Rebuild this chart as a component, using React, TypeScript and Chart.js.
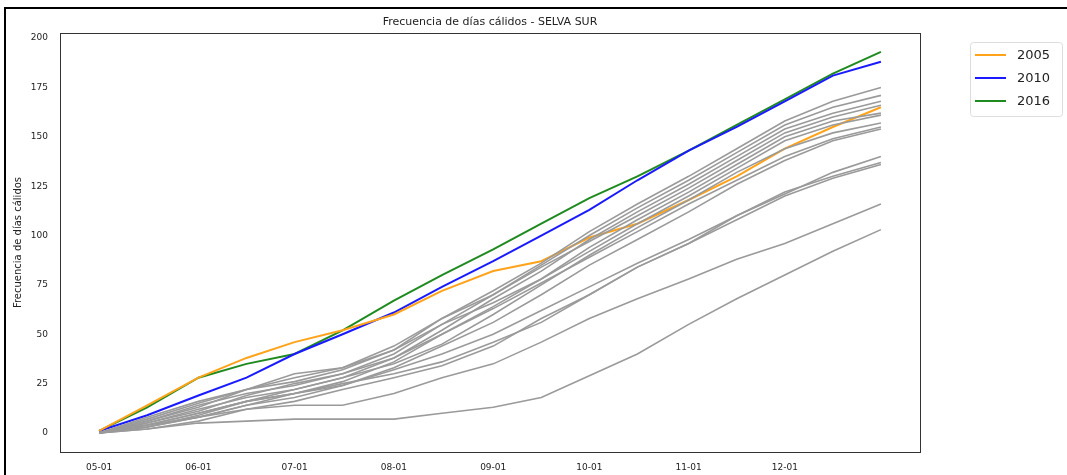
import React, { useEffect, useRef } from "react";
import { Chart, registerables } from "chart.js";
Chart.register(...registerables);

const days = [0, 15, 31, 46, 61, 76, 92, 107, 123, 138, 153, 168, 184, 199, 214, 229, 244];
const monthTicks = [0, 31, 61, 92, 123, 153, 184, 214];
const monthLabels = ["05-01", "06-01", "07-01", "08-01", "09-01", "10-01", "11-01", "12-01"];
const yTicks = [0, 25, 50, 75, 100, 125, 150, 175, 200];

const y2005 = [1, 14, 28, 38, 46, 52, 60, 72, 82, 87, 99, 106, 118, 130, 144, 155, 165];
const y2010 = [1, 9, 19, 28, 40, 50, 61, 74, 87, 100, 113, 128, 143, 155, 168, 181, 188];
const y2016 = [1, 13, 28, 35, 40, 52, 67, 80, 93, 106, 119, 130, 143, 156, 169, 182, 193];

const grayYears = [
  [0, 8, 16, 22, 26, 32, 42, 58, 72, 86, 102, 116, 130, 144, 158, 168, 175],
  [0, 6, 14, 20, 24, 30, 40, 55, 70, 85, 100, 114, 128, 142, 156, 165, 171],
  [0, 5, 12, 18, 22, 28, 38, 52, 68, 82, 98, 112, 126, 140, 154, 162, 168],
  [0, 7, 15, 22, 28, 33, 44, 58, 70, 84, 97, 110, 124, 138, 152, 160, 166],
  [0, 4, 10, 16, 20, 26, 36, 50, 64, 78, 94, 108, 122, 136, 150, 158, 162],
  [0, 6, 13, 22, 30, 33, 42, 55, 66, 78, 92, 106, 120, 134, 148, 156, 161],
  [0, 3, 9, 16, 22, 28, 35, 45, 60, 75, 90, 104, 118, 132, 144, 152, 157],
  [0, 5, 11, 19, 25, 30, 38, 50, 63, 76, 89, 102, 116, 128, 140, 149, 155],
  [0, 4, 8, 14, 18, 24, 33, 44, 56, 70, 85, 98, 112, 126, 138, 148, 154],
  [0, 3, 8, 14, 20, 25, 30, 36, 46, 56, 70, 84, 96, 110, 121, 132, 140],
  [0, 4, 10, 16, 20, 24, 32, 40, 50, 62, 74, 86, 98, 110, 122, 130, 137],
  [0, 2, 6, 12, 16, 22, 28, 34, 44, 58, 70, 84, 96, 108, 120, 129, 136],
  [0, 3, 8, 12, 14, 14, 20, 28, 35, 46, 58, 68, 78, 88, 96, 106, 116],
  [0, 2, 5, 6, 7, 7, 7, 10, 13, 18, 29, 40, 55, 68, 80, 92, 103],
];

const legendItems = [
  { label: "2005", color: "#ffa31a" },
  { label: "2010", color: "#1a1aff" },
  { label: "2016", color: "#1f8a1f" },
];

export default function App() {
  const ref = useRef<HTMLCanvasElement>(null);
  useEffect(() => {
    const mk = (vals: number[]) => vals.map((v, i) => ({ x: days[i], y: v }));
    const datasets: any[] = grayYears.map((g, i) => ({
      label: "g" + i, data: mk(g), borderColor: "#9a9a9a", borderWidth: 1.6, pointRadius: 0,
    }));
    datasets.push(
      { label: "2005", data: mk(y2005), borderColor: legendItems[0].color, borderWidth: 2, pointRadius: 0 },
      { label: "2010", data: mk(y2010), borderColor: legendItems[1].color, borderWidth: 2, pointRadius: 0 },
      { label: "2016", data: mk(y2016), borderColor: legendItems[2].color, borderWidth: 2, pointRadius: 0 }
    );
    const deco = {
      id: "deco",
      afterDraw(c: any) {
        const ctx = c.ctx;
        const a = c.chartArea;
        ctx.save();
        ctx.strokeStyle = "#333";
        ctx.lineWidth = 1;
        ctx.strokeRect(a.left + 0.5, a.top + 0.5, a.right - a.left, a.bottom - a.top);
        ctx.strokeStyle = "#000";
        ctx.lineWidth = 2;
        ctx.beginPath();
        ctx.moveTo(5, 475);
        ctx.lineTo(5, 8);
        ctx.lineTo(1067, 8);
        ctx.stroke();
        ctx.fillStyle = "#222";
        ctx.font = "11px 'DejaVu Sans'";
        ctx.textAlign = "center";
        ctx.textBaseline = "middle";
        ctx.fillText("Frecuencia de días cálidos - SELVA SUR", (a.left + a.right) / 2, 22);
        ctx.strokeStyle = "#ddd";
        ctx.lineWidth = 1;
        ctx.fillStyle = "#fff";
        ctx.beginPath();
        ctx.roundRect(970.5, 42.5, 92, 74, 3);
        ctx.fill();
        ctx.stroke();
        ctx.font = "13px 'DejaVu Sans'";
        ctx.textAlign = "left";
        legendItems.forEach((it, i) => {
          const y = 55 + i * 23;
          ctx.strokeStyle = it.color;
          ctx.lineWidth = 2;
          ctx.beginPath();
          ctx.moveTo(975, y);
          ctx.lineTo(1006, y);
          ctx.stroke();
          ctx.fillStyle = "#222";
          ctx.fillText(it.label, 1017, y + 1);
        });
        ctx.restore();
      },
    };
    const chart = new Chart(ref.current!, {
      type: "line",
      data: { datasets },
      plugins: [deco],
      options: {
        animation: false,
        responsive: false,
        layout: { padding: { left: 12, right: 147, top: 33, bottom: 0 } },
        plugins: { legend: { display: false }, title: { display: false }, tooltip: { enabled: false } },
        scales: {
          x: {
            type: "linear", min: -12.2, max: 256.2,
            grid: { display: false },
            border: { color: "#333" },
            afterFit: (ax: any) => { ax.height = 23; },
            afterBuildTicks: (ax: any) => { ax.ticks = monthTicks.map((v) => ({ value: v })); },
            ticks: {
              color: "#222", font: { family: "DejaVu Sans", size: 9 }, maxRotation: 0, padding: 2,
              callback: (v: any) => monthLabels[monthTicks.indexOf(Number(v))] ?? "",
            },
          },
          y: {
            min: -9.65, max: 202.6,
            grid: { display: false },
            border: { color: "#333" },
            afterFit: (ax: any) => { ax.width = 48; },
            afterBuildTicks: (ax: any) => { ax.ticks = yTicks.map((v) => ({ value: v })); },
            ticks: { color: "#222", font: { family: "DejaVu Sans", size: 9 }, padding: 4 },
            title: { display: true, text: "Frecuencia de días cálidos", color: "#222", font: { family: "DejaVu Sans", size: 10 }, padding: 0 },
          },
        },
      },
    });
    return () => chart.destroy();
  }, []);
  return (
    <div style={{ position: "fixed", left: 0, top: 0, width: 1067, height: 475, background: "#fff" }}>
      <canvas ref={ref} width={1067} height={475} />
    </div>
  );
}
